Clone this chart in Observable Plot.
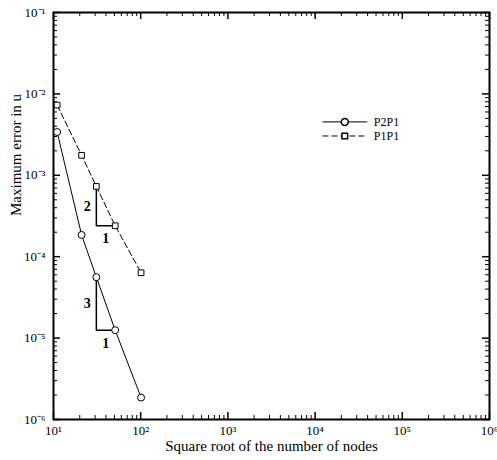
<!DOCTYPE html>
<html><head><meta charset="utf-8">
<script src="https://cdn.jsdelivr.net/npm/d3@7"></script>
<script src="https://cdn.jsdelivr.net/npm/@observablehq/plot@0.6"></script>
<style>body{margin:0;background:#fff}</style>
</head><body><div id="chart"></div>
<script>
// Data
const nodesSqrt = [11, 21, 31, 51, 101];
const errP2P1 = [3.4e-3, 1.85e-4, 5.6e-5, 1.25e-5, 1.86e-6];
const errP1P1 = [7.3e-3, 1.76e-3, 7.3e-4, 2.4e-4, 6.35e-5];
const seriesNames = ["P2P1", "P1P1"];
const xMajor = [1e1, 1e2, 1e3, 1e4, 1e5, 1e6];
const yMajor = [1e-6, 1e-5, 1e-4, 1e-3, 1e-2, 1e-1];
const minorMult = [2, 3, 4, 5, 6, 7, 8, 9];
const riseLabels = ["2", "3"];
const runLabels = ["1", "1"];
const xTitle = "Square root of the number of nodes";
const yTitle = "Maximum error in u";
// legend anchor positions (data units)
const legendLineX = [12300, 40200];
const legendMarkX = [21900];
const legendTextX = [47100];
const legendY = [4.53e-3, 3.04e-3];

const W = 497, H = 460, ML = 53, MR = 8, MT = 12, MB = 41;
const FW = W - ML - MR, FH = H - MT - MB;
const majorLen = 7, minorLen = 4;

const xMinor = xMajor.slice(0, -1).flatMap(d => minorMult.map(m => m * d));
const yMinor = yMajor.slice(0, -1).flatMap(d => minorMult.map(m => m * d));
const xDom = [xMajor[0], xMajor[xMajor.length - 1]];
const yDom = [yMajor[0], yMajor[yMajor.length - 1]];

const supMap = {"-": "\u207B", "0": "\u2070", "1": "\u00B9", "2": "\u00B2", "3": "\u00B3", "4": "\u2074", "5": "\u2075", "6": "\u2076", "7": "\u2077", "8": "\u2078", "9": "\u2079"};
const fmt = v => "10" + String(Math.round(Math.log10(v))).split("").map(c => supMap[c]).join("");

const p2 = nodesSqrt.map((n, i) => ({n, err: errP2P1[i]}));
const p1 = nodesSqrt.map((n, i) => ({n, err: errP1P1[i]}));
const triOf = e => [{n: nodesSqrt[2], err: e[2]}, {n: nodesSqrt[2], err: e[3]}, {n: nodesSqrt[3], err: e[3]}];
const gm = (a, b) => Math.sqrt(a * b);
const riseText = [errP1P1, errP2P1].map((e, i) => ({n: nodesSqrt[2], err: gm(e[2], e[3]), t: riseLabels[i]}));
const runText = [errP1P1, errP2P1].map((e, i) => ({n: gm(nodesSqrt[2], nodesSqrt[3]), err: e[3], t: runLabels[i]}));
const legRows = seriesNames.map((s, i) => ({s, y: legendY[i]}));

// tick helpers (ticks drawn inward on all four sides)
const ticksX = (vals, len, side, sw) => Plot.ruleX(vals, {x: d => d, y1: yDom[1], y2: yDom[0],
  [side === "bottom" ? "insetTop" : "insetBottom"]: FH - len, stroke: "black", strokeWidth: sw});
const ticksY = (vals, len, side, sw) => Plot.ruleY(vals, {y: d => d, x1: xDom[0], x2: xDom[1],
  [side === "left" ? "insetRight" : "insetLeft"]: FW - len, stroke: "black", strokeWidth: sw});

const chart = Plot.plot({
  width: W, height: H,
  marginLeft: ML, marginRight: MR, marginTop: MT, marginBottom: MB,
  style: {fontFamily: "Liberation Serif, Times New Roman, serif", background: "white", color: "black"},
  x: {type: "log", domain: xDom},
  y: {type: "log", domain: yDom},
  marks: [
    Plot.axisX(xMajor, {anchor: "bottom", tickSize: 0, tickPadding: 6, tickFormat: fmt, fontSize: 13, label: null}),
    Plot.axisY(yMajor, {anchor: "left", tickSize: 0, tickPadding: 8, tickFormat: fmt, fontSize: 13, label: null}),
    Plot.text([xTitle], {frameAnchor: "bottom", dy: 31, fontSize: 15}),
    Plot.text([yTitle], {frameAnchor: "left", dx: -37, rotate: -90, fontSize: 15}),
    ticksX(xMajor, majorLen, "bottom", 1.5), ticksX(xMinor, minorLen, "bottom", 1),
    ticksX(xMajor, majorLen, "top", 1.5), ticksX(xMinor, minorLen, "top", 1),
    ticksY(yMajor, majorLen, "left", 1.5), ticksY(yMinor, minorLen, "left", 1),
    ticksY(yMajor, majorLen, "right", 1.5), ticksY(yMinor, minorLen, "right", 1),
    Plot.frame({stroke: "black", strokeWidth: 2}),
    Plot.line(p2, {x: "n", y: "err", stroke: "black", strokeWidth: 1}),
    Plot.line(p1, {x: "n", y: "err", stroke: "black", strokeWidth: 1, strokeDasharray: "6,3"}),
    Plot.line(triOf(errP1P1), {x: "n", y: "err", stroke: "black", strokeWidth: 1.5}),
    Plot.line(triOf(errP2P1), {x: "n", y: "err", stroke: "black", strokeWidth: 1.5}),
    Plot.dot(p2, {x: "n", y: "err", r: 3.5, stroke: "black", fill: "white", strokeWidth: 1}),
    Plot.dot(p1, {x: "n", y: "err", r: 3.2, symbol: "square", stroke: "black", fill: "white", strokeWidth: 1}),
    Plot.text(riseText, {x: "n", y: "err", text: "t", dx: -9, fontSize: 14, fontWeight: "bold"}),
    Plot.text(runText, {x: "n", y: "err", text: "t", dy: 13, fontSize: 14, fontWeight: "bold"}),
    // legend
    Plot.ruleY([legRows[0]], {y: "y", x1: legendLineX[0], x2: legendLineX[1], stroke: "black", strokeWidth: 1}),
    Plot.ruleY([legRows[1]], {y: "y", x1: legendLineX[0], x2: legendLineX[1], stroke: "black", strokeWidth: 1, strokeDasharray: "6,3"}),
    Plot.dot([legRows[0]], {x: () => legendMarkX[0], y: "y", r: 3.5, stroke: "black", fill: "white"}),
    Plot.dot([legRows[1]], {x: () => legendMarkX[0], y: "y", r: 3.2, symbol: "square", stroke: "black", fill: "white"}),
    Plot.text(legRows, {x: () => legendTextX[0], y: "y", text: "s", textAnchor: "start", fontSize: 12})
  ]
});
document.getElementById("chart").appendChild(chart);
</script>
</body></html>
